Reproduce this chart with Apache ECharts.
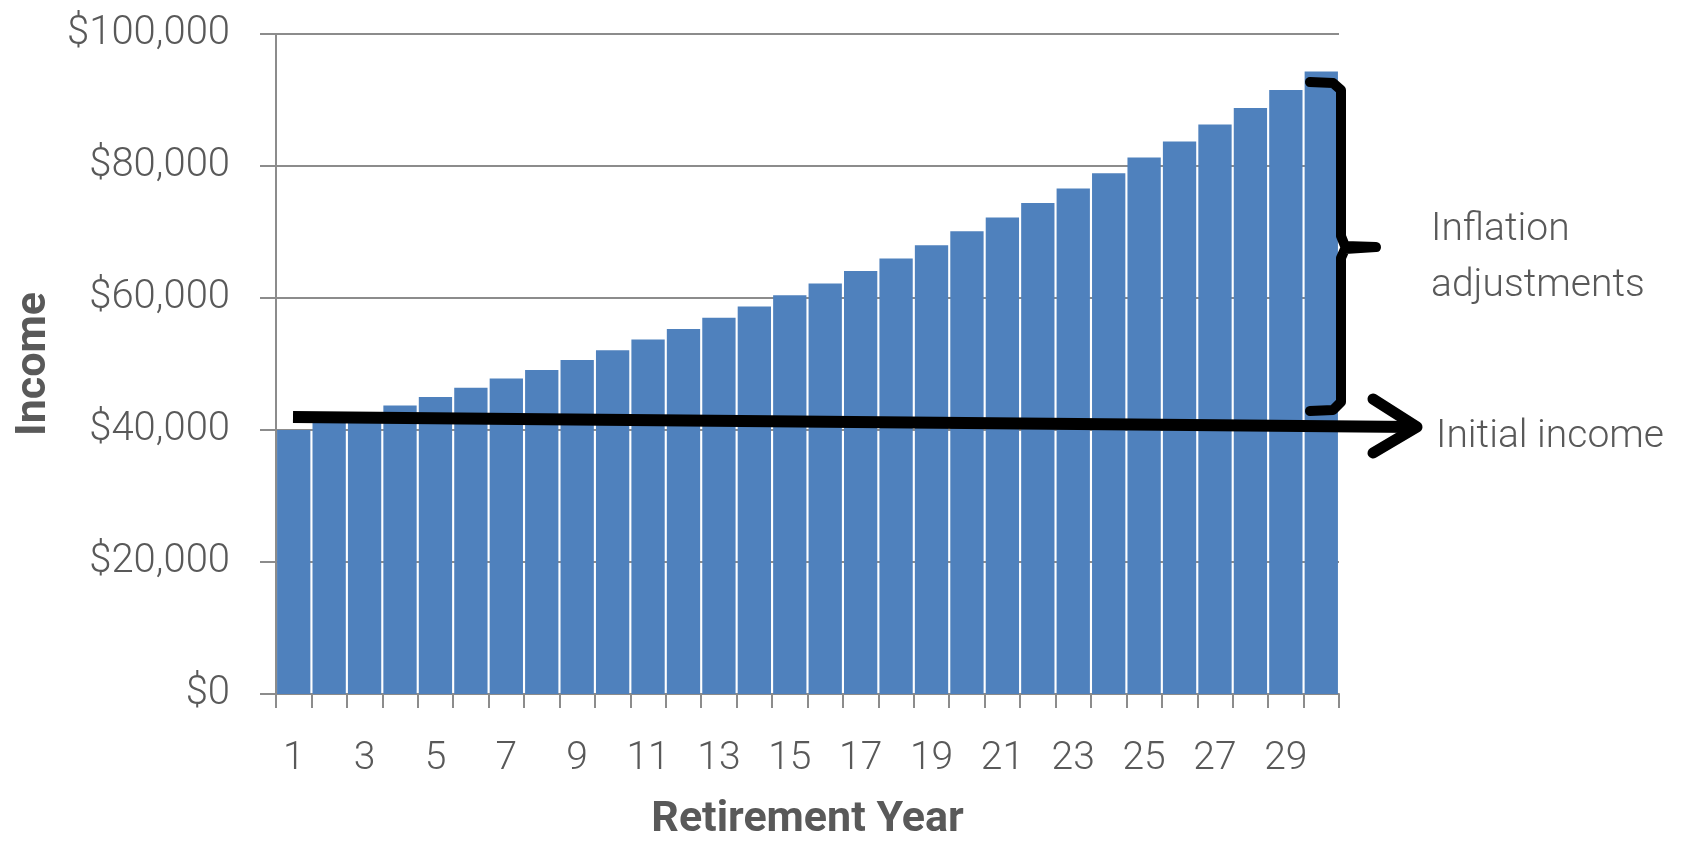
<!DOCTYPE html>
<html>
<head>
<meta charset="utf-8">
<title>Retirement income with inflation adjustments</title>
<script src="https://cdn.jsdelivr.net/npm/echarts@6/dist/echarts.min.js"></script>
<style>
  html, body { margin: 0; padding: 0; background: #ffffff; }
  #chart { width: 1681px; height: 841px; }
</style>
</head>
<body>
<div id="chart"></div>
<script>
// Retirement years 1..30
const years = ['1','2','3','4','5','6','7','8','9','10','11','12','13','14','15',
               '16','17','18','19','20','21','22','23','24','25','26','27','28','29','30'];

// Annual income in dollars, growing each year with inflation
const income = [40000, 41200, 42400, 43700, 45000, 46400, 47800, 49100, 50600, 52100,
                53700, 55300, 57000, 58700, 60400, 62200, 64100, 66000, 68000, 70100,
                72200, 74400, 76600, 78900, 81300, 83700, 86300, 88800, 91500, 94300];

// Value axis ticks
const yTicks = [0, 20000, 40000, 60000, 80000, 100000];

// Annotation texts
const noteInflation = 'Inflation\nadjustments';
const noteInitial = 'Initial income';

const gray = '#8c8c8c';
const textGray = '#595959';
const font = 'Roboto, "Liberation Sans", sans-serif';

const chart = echarts.init(document.getElementById('chart'), null, { renderer: 'canvas' });

const fmt = v => '$' + v.toLocaleString('en-US');

chart.setOption({
  animation: false,
  backgroundColor: '#ffffff',
  grid: { left: 276, right: 342, top: 34, bottom: 147, containLabel: false, outerBoundsMode: 'none' },
  xAxis: {
    type: 'category',
    data: years,
    boundaryGap: true,
    name: 'Retirement Year',
    nameLocation: 'middle',
    nameGap: 105,
    nameTextStyle: { fontFamily: font, fontWeight: 'bold', fontSize: 43, color: textGray },
    axisLine: { show: true, lineStyle: { color: gray, width: 2 } },
    axisTick: { show: true, interval: 0, length: 14, lineStyle: { color: gray, width: 2 } },
    axisLabel: { interval: 1, margin: 46, fontFamily: font, fontWeight: 300, fontSize: 39, color: textGray }
  },
  yAxis: {
    type: 'value',
    min: yTicks[0],
    max: yTicks[yTicks.length - 1],
    interval: yTicks[1] - yTicks[0],
    name: 'Income',
    nameLocation: 'middle',
    nameRotate: 90,
    nameGap: 216,
    nameTextStyle: { fontFamily: font, fontWeight: 'bold', fontSize: 43, color: textGray },
    axisLine: { show: true, lineStyle: { color: gray, width: 2 } },
    axisTick: { show: true, length: 16, lineStyle: { color: gray, width: 2 } },
    splitLine: { show: true, lineStyle: { color: gray, width: 2 } },
    axisLabel: { margin: 46, fontFamily: font, fontWeight: 300, fontSize: 40, color: textGray, formatter: fmt }
  },
  series: [{
    type: 'bar',
    data: income,
    barCategoryGap: '6%',
    itemStyle: { color: '#4f81bd' },
    z: 2
  }],
  graphic: [
    // horizontal arrow marking the starting income level
    {
      type: 'polyline', z: 100,
      shape: { points: [[293, 417], [1414, 427]] },
      style: { stroke: '#000', lineWidth: 12, fill: null, lineCap: 'butt' }
    },
    {
      type: 'polyline', z: 100,
      shape: { points: [[1373, 399], [1417, 427], [1373, 453]] },
      style: { stroke: '#000', lineWidth: 11, fill: null, lineCap: 'round', lineJoin: 'round' }
    },
    // curly brace spanning the inflation increase
    {
      type: 'polyline', z: 100,
      shape: { points: [
        [1310, 82], [1333, 83], [1341, 90], [1341, 236], [1345, 246], [1376, 247],
        [1345, 249], [1341, 258], [1341, 402], [1333, 410], [1310, 411]
      ] },
      style: { stroke: '#000', lineWidth: 10, fill: null, lineCap: 'round', lineJoin: 'round' }
    },
    {
      type: 'text', z: 100, left: 1431, top: 202,
      style: { text: noteInflation, fontFamily: font, fontWeight: 300, fontSize: 39, lineHeight: 56, fill: textGray }
    },
    {
      type: 'text', z: 100, left: 1436, top: 418,
      style: { text: noteInitial, fontFamily: font, fontWeight: 300, fontSize: 39, fill: textGray }
    }
  ]
});
</script>
</body>
</html>
